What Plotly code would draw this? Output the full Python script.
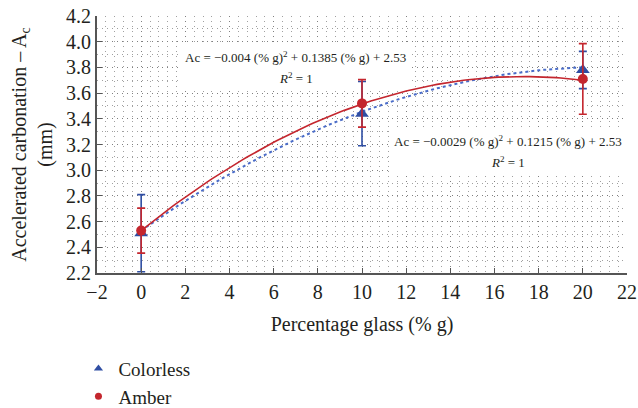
import numpy as np
import plotly.graph_objects as go

# ---- data ----
glass_pct = [0, 10, 20]
colorless_y = [2.51, 3.44, 3.78]
colorless_err = [0.30, 0.25, 0.145]
amber_y = [2.53, 3.52, 3.71]
amber_err = [0.175, 0.185, 0.275]
# trendline coefficients (a*x^2 + b*x + c) as printed on the chart
colorless_coef = [-0.0029, 0.1215, 2.53]
amber_coef = [-0.004, 0.1385, 2.53]
eq_amber = "Ac = \u22120.004 (% g)<sup>2</sup> + 0.1385 (% g) + 2.53"
eq_colorless = "Ac = \u22120.0029 (% g)<sup>2</sup> + 0.1215 (% g) + 2.53"
r2_text = "<i>R</i><sup>2</sup> = 1"
x_ticks = list(range(-2, 23, 2))

BLUE = "#2f4ea3"
BLUE_LINE = "#4a6cc8"
RED = "#c4262e"
FONT = "Liberation Serif, DejaVu Serif, Times New Roman, serif"
TXT = "#231f20"

xs = np.linspace(0, 20, 101)
fit_c = np.polyval(colorless_coef, xs)
fit_a = np.polyval(amber_coef, xs)

fig = go.Figure()
fig.add_trace(go.Scatter(x=xs, y=fit_c, mode="lines", showlegend=False, hoverinfo="skip",
                         line=dict(color=BLUE_LINE, width=2, dash="dot")))
fig.add_trace(go.Scatter(x=xs, y=fit_a, mode="lines", showlegend=False, hoverinfo="skip",
                         line=dict(color=RED, width=1.6)))
fig.add_trace(go.Scatter(x=glass_pct, y=colorless_y, mode="markers", name="Colorless", showlegend=False,
                         marker=dict(symbol="triangle-up", size=12, color=BLUE),
                         error_y=dict(type="data", array=colorless_err, color=BLUE, thickness=1.6, width=4)))
fig.add_trace(go.Scatter(x=glass_pct, y=amber_y, mode="markers", name="Amber", showlegend=False,
                         marker=dict(symbol="circle", size=10, color=RED),
                         error_y=dict(type="data", array=amber_err, color=RED, thickness=1.6, width=4)))
# legend entries (smaller symbols, as in the reference legend)
fig.add_trace(go.Scatter(x=[None], y=[None], mode="markers", name="Colorless",
                         marker=dict(symbol="triangle-up", size=8, color=BLUE)))
fig.add_trace(go.Scatter(x=[None], y=[None], mode="markers", name="Amber",
                         marker=dict(symbol="circle", size=7, color=RED)))

# white label boxes behind the equations (cover grid only)
fig.add_shape(type="rect", xref="x", yref="y", x0=1.7, x1=12.25, y0=3.64, y1=3.975,
              fillcolor="white", line=dict(width=0), layer="between")
fig.add_shape(type="rect", xref="x", yref="y", x0=11.25, x1=21.9, y0=2.986, y1=3.336,
              fillcolor="white", line=dict(width=0), layer="between")

ann_font = dict(family=FONT, size=13, color=TXT)
fig.add_annotation(x=7.0, y=3.881, xref="x", yref="y", text=eq_amber, showarrow=False, font=ann_font)
fig.add_annotation(x=7.0, y=3.718, xref="x", yref="y", text=r2_text, showarrow=False, font=ann_font)
fig.add_annotation(x=16.6, y=3.227, xref="x", yref="y", text=eq_colorless, showarrow=False, font=ann_font)
fig.add_annotation(x=16.6, y=3.064, xref="x", yref="y", text=r2_text, showarrow=False, font=ann_font)

axis_font = dict(family=FONT, size=20, color=TXT)
grid_common = dict(showgrid=True, gridcolor="#808080", griddash="1px,4px", gridwidth=1)
fig.update_layout(
    width=638, height=408,
    margin=dict(l=97, r=11, t=16, b=135, autoexpand=False),
    paper_bgcolor="white", plot_bgcolor="white",
    font=dict(family=FONT, size=20, color=TXT),
    xaxis=dict(range=[-2, 22], tickvals=x_ticks, ticks="inside", ticklen=5, tickcolor="#555",
               showline=True, linecolor="#555", linewidth=2, zeroline=False,
               minor=dict(dtick=0.4, showgrid=True, gridcolor="#a0a0a0", griddash="1px,4px", gridwidth=1),
               tickfont=axis_font,
               title=dict(text="Percentage glass (% g)", font=axis_font, standoff=15),
               **grid_common),
    yaxis=dict(range=[2.2, 4.2], dtick=0.2, tickformat=".1f", ticks="inside", ticklen=5, tickcolor="#555",
               showline=True, linecolor="#555", linewidth=2, zeroline=False,
               minor=dict(dtick=0.1, showgrid=True, gridcolor="#a0a0a0", griddash="1px,4px", gridwidth=1),
               tickfont=axis_font,
               title=dict(text="Accelerated carbonation \u2013 A<sub>c</sub><br>(mm)", font=axis_font, standoff=8),
               **grid_common),
    legend=dict(x=-0.035, y=-0.298, xanchor="left", yanchor="top", font=dict(family=FONT, size=19, color=TXT),
                bgcolor="rgba(0,0,0,0)", tracegroupgap=0, itemwidth=30),
)

fig.write_html("out.html")
